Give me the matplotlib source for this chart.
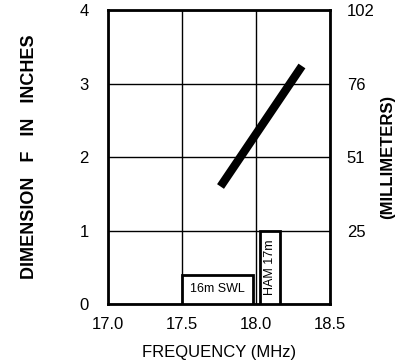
import matplotlib.pyplot as plt
from matplotlib.patches import Rectangle

# data
freq = [17.76, 18.31]          # MHz
dim_in = [1.60, 3.24]          # inches
x_ticks = [17.0, 17.5, 18.0, 18.5]
x_labels = ["17.0", "17.5", "18.0", "18.5"]
y_ticks = [0, 1, 2, 3, 4]
mm_labels = ["25", "51", "76", "102"]

swl_band = (17.5, 17.98, 0.4)   # start, end, box height
ham_band = (18.03, 18.16, 1.0)

plt.rcParams['font.family'] = ['Liberation Sans', 'DejaVu Sans']

fig = plt.figure(figsize=(4.06, 3.62), dpi=100)
ax = fig.add_axes([0.266, 0.160, 0.547, 0.812])

ax.set_xlim(17.0, 18.5)
ax.set_ylim(0, 4)
ax.set_xticks(x_ticks)
ax.set_xticklabels(x_labels)
ax.set_yticks(y_ticks)
ax.grid(True, color='black', linewidth=1.0)
ax.tick_params(length=0, labelsize=12)
ax.tick_params(axis='y', pad=14)
ax.tick_params(axis='x', pad=9)
for s in ax.spines.values():
    s.set_linewidth(2)

# thick curve
ax.plot(freq, dim_in, color='black', linewidth=6, solid_capstyle='butt')

# band boxes
for (x0, x1, h), txt, rot in [(swl_band, "16m SWL", 0), (ham_band, "HAM 17m", 90)]:
    ax.add_patch(Rectangle((x0, 0), x1 - x0, h, facecolor='white',
                           edgecolor='black', linewidth=2, zorder=3))
    ax.text((x0 + x1) / 2, h / 2, txt, rotation=rot, ha='center', va='center',
            fontsize=9, zorder=4)

ax.set_xlabel("FREQUENCY (MHz)", fontsize=12, labelpad=10)
ax.set_ylabel("DIMENSION   F   IN   INCHES", fontsize=13, fontweight='bold', labelpad=30)

ax2 = ax.twinx()
ax2.set_ylim(0, 4)
ax2.set_yticks([1, 2, 3, 4])
ax2.set_yticklabels(mm_labels)
ax2.tick_params(length=0, labelsize=12, pad=12)
ax2.set_ylabel("(MILLIMETERS)", fontsize=12, fontweight='bold', labelpad=4)
for s in ax2.spines.values():
    s.set_visible(False)

fig.savefig("out.png", dpi=100)
